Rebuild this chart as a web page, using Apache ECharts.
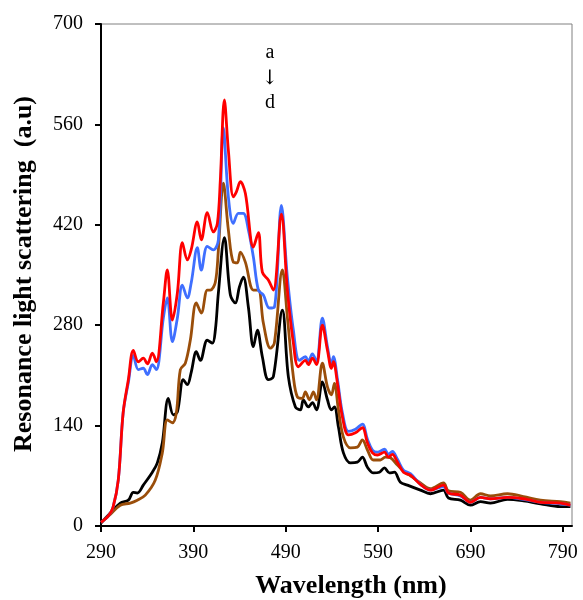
<!DOCTYPE html>
<html>
<head>
<meta charset="utf-8">
<script src="https://cdn.jsdelivr.net/npm/echarts@6/dist/echarts.min.js"></script>
<style>html,body{margin:0;padding:0;background:#fff}#c{width:583px;height:600px}</style>
</head>
<body>
<div id="c"></div>
<script>
// Wavelength (nm) and intensity readings for each curve
var redX = [290,298,303,308.7,314,319.6,325,330.4,335.8,340.2,345.6,349.9,357.5,361.8,367.3,372.7,378.1,383.5,387.8,394.3,398.6,405.1,411.6,416,419.2,423.6,427.9,433.3,436.6,440.9,446.3,455,460.4,464.7,471.2,476.6,485.3,491.8,498.3,503.7,511.3,514.6,518.9,523.3,529.7,535.2,539.5,541.7,546,551.4,557.9,565.5,573,578.5,583.9,589.3,596.9,601.2,605.5,611,617.5,625,635.9,646.7,660.8,666.2,679.2,690,700.9,711.7,730.1,747.5,765.9,787.5,798.3];
var redY = [5,14,26,64,158,204,245,229,234,226,241,229,311,357,287,325,395,371,386,424,399,437,410,422,482,594,524,459,466,480,464,389,409,354,343,329,435,329,255,222,231,225,234,225,280,245,220,229,199,152,127,130,137,116,102,99,103,96,100,89,75,71,58,50,57,46,43,33,40,38,40,38,33,32,29];

var blueX = [290,298,303,308.7,314,319.6,325,330.4,335.8,340.2,345.6,349.9,357.5,361.8,367.3,372.7,378.1,383.5,387.8,394.3,398.6,405.1,411.6,417.1,422.5,427.9,433.3,438.7,444.1,449.6,455,460.4,465.8,472.3,477.7,485.3,491.8,498.3,504.8,511.3,514.6,518.9,523.3,529.7,535.2,539.5,541.7,546,551.4,557.9,565.5,573,578.5,583.9,589.3,596.9,601.2,605.5,611,617.5,625,635.9,646.7,660.8,666.2,679.2,690,700.9,711.7,730.1,747.5,765.9,787.5,798.3];
var blueY = [5,14,26,64,158,200,238,218,220,211,225,218,290,318,257,290,336,318,340,388,357,390,385,399,555,459,422,436,436,413,375,329,322,304,305,447,347,273,231,236,230,240,230,290,250,226,236,205,158,132,135,142,121,106,103,107,100,104,93,78,73,58,50,55,46,42,33,40,38,40,37,33,31,29];

var brownX = [290,300,310.9,321.7,329.3,338,348.8,356.4,361.8,367.3,371.6,375.9,381.3,386.7,393.2,398.6,405.1,408.4,413.8,417.1,422.5,427.9,433.3,437.7,440.9,446.3,455,460.4,465.8,473.4,477.7,486.4,491.8,498.3,502.6,508,511.3,515.7,520,523.3,529.7,535.2,539.5,542.7,547.1,552.5,560.1,567.6,573,578.5,585,592.5,597.9,603.4,611,619.7,625,635.9,646.7,660.8,666.2,679.2,690,700.9,711.7,730.1,747.5,765.9,787.5,798.3];
var brownY = [5,16,29,32,36,43,64,102,148,144,158,218,227,259,311,297,329,329,340,385,478,413,368,367,382,368,329,329,283,248,255,357,291,208,180,178,187,176,187,176,227,194,183,199,162,124,109,110,120,106,92,92,96,95,85,74,70,60,52,60,49,47,36,45,42,45,41,36,34,32];

var blackX = [290,300.1,310.9,319.6,325,329.3,335.8,345.6,351,356.4,362.9,368.3,372.7,379.1,383.5,387.8,393.2,397.6,405.1,410.6,413.8,417.1,423.6,430.1,435.5,439.8,444.1,449.6,455,459.3,464.7,471.2,476.6,486.4,492.9,500.5,505.9,509.1,514.6,518.9,523.3,529.7,535.2,539.5,542.7,547.1,552.5,560.1,567.6,573,578.5,585,591.5,596.9,602.3,607.7,614.2,621.8,635.9,646.7,660.8,666.2,679.2,690,700.9,711.7,730.1,747.5,765.9,787.5,798.3];
var blackY = [4,18,32,36,47,46,57,75,88,116,178,155,159,204,197,215,243,231,259,255,273,325,402,322,311,333,347,305,250,273,236,204,208,301,208,166,162,176,166,172,162,201,176,162,166,138,102,88,89,96,82,74,75,81,74,75,61,57,50,45,50,39,36,29,34,32,37,35,31,27,27];

var xTicks = [290,390,490,590,690,790];
var yTicks = [0,140,280,420,560,700];
var annotation = ['a', '\u2193', 'd'];
var xTitle = 'Wavelength (nm)';
var yTitle = 'Resonance light scattering  (a.u)';

function pairs(xs, ys){ return xs.map(function(x,i){ return [x, ys[i]]; }); }

var chart = echarts.init(document.getElementById('c'));
var serif = '"Liberation Serif","Times New Roman",serif';
function mk(name, xs, ys, color){
  return {name:name, type:'line', data:pairs(xs,ys), showSymbol:false, smooth:0.35,
    lineStyle:{color:color, width:2.8}, itemStyle:{color:color}, z:2};
}
var annoY = [53, 79, 103];
var graphics = annotation.map(function(t,i){
  return {type:'text', x:270, y:annoY[i],
    style:{text:t, fill:'#000', align:'center', verticalAlign:'middle',
      font: i===1 ? '20px "DejaVu Serif",serif' : '20px '+serif}};
});
graphics.push({type:'text', x:351, y:586,
  style:{text:xTitle, fill:'#000', align:'center', verticalAlign:'middle', font:'bold 26px '+serif}});
graphics.push({type:'text', x:24, y:274, rotation:Math.PI/2,
  style:{text:yTitle, fill:'#000', align:'center', verticalAlign:'middle', font:'bold 26px '+serif}});

chart.setOption({
  animation:false,
  grid:{left:101, top:24, right:11, bottom:74, show:true, borderColor:'#808080', borderWidth:1},
  xAxis:{type:'value', min:290, max:800, interval:100,
    axisLine:{lineStyle:{color:'#000', width:2}},
    axisTick:{show:true, length:6, lineStyle:{color:'#000', width:2}, customValues:xTicks},
    axisLabel:{color:'#000', fontFamily:serif, fontSize:20, margin:17, customValues:xTicks},
    splitLine:{show:false}},
  yAxis:{type:'value', min:0, max:700, interval:140,
    axisLine:{show:true, lineStyle:{color:'#000', width:2}},
    axisTick:{show:true, length:6, lineStyle:{color:'#000', width:2}, customValues:yTicks},
    axisLabel:{color:'#000', fontFamily:serif, fontSize:20, margin:18, customValues:yTicks},
    splitLine:{show:false}},
  series:[
    mk('d', blackX, blackY, '#000000'),
    mk('c', brownX, brownY, '#9A4E0A'),
    mk('b', blueX, blueY, '#3F6FFF'),
    mk('a', redX, redY, '#FF0000')
  ],
  graphic: graphics
});
</script>
</body>
</html>
